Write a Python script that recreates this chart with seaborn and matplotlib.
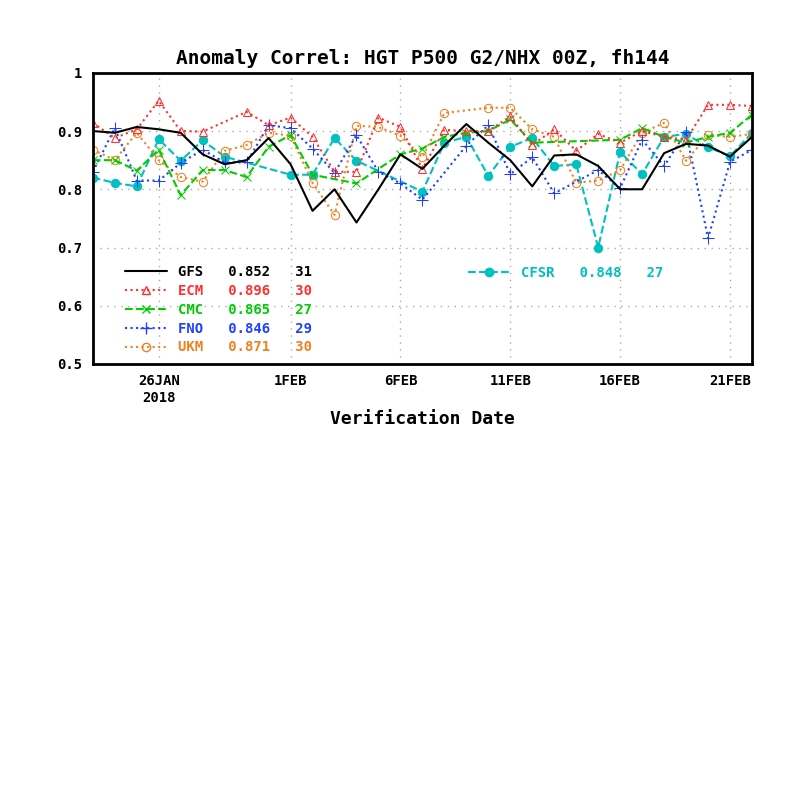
import numpy as np
import pandas as pd
import seaborn as sns
import matplotlib.pyplot as plt
from matplotlib.lines import Line2D

nan = np.nan
dates = pd.date_range('2018-01-23', '2018-02-22', freq='D')

gfs = [0.900, 0.897, 0.907, 0.903, 0.897, 0.860, 0.843, 0.850, 0.888, 0.843, 0.763,
       0.800, 0.743, 0.800, 0.860, 0.835, 0.875, 0.912, 0.880, 0.850, 0.805, 0.858,
       0.860, 0.840, 0.800, 0.800, 0.862, 0.878, 0.875, 0.856, 0.890]
ecm = [0.914, 0.888, 0.903, 0.952, 0.900, 0.899, nan, 0.933, 0.910, 0.923, 0.890,
       0.830, 0.830, 0.923, 0.907, 0.835, 0.902, 0.900, 0.900, 0.925, 0.876, 0.903,
       0.866, 0.895, 0.880, 0.900, 0.890, 0.885, 0.945, 0.945, 0.943]
cmc = [0.850, 0.850, 0.832, 0.868, 0.790, 0.833, 0.833, 0.821, 0.873, 0.893, 0.825,
       nan, 0.810, nan, 0.860, 0.870, 0.890, 0.897, 0.900, 0.920, 0.880, nan,
       nan, nan, 0.885, 0.905, 0.890, 0.880, 0.890, 0.897, 0.928]
fno = [0.830, 0.905, 0.815, 0.815, 0.845, 0.868, 0.846, 0.846, 0.910, 0.905, 0.870,
       0.828, 0.893, 0.830, 0.810, 0.782, nan, 0.875, 0.910, 0.826, 0.855, 0.793,
       nan, 0.833, 0.802, 0.885, 0.840, 0.898, 0.716, 0.847, 0.868]
ukm = [0.868, 0.850, 0.897, 0.850, 0.821, 0.813, 0.866, 0.876, 0.897, 0.892, 0.811,
       0.756, 0.909, 0.907, 0.892, 0.855, 0.931, nan, 0.940, 0.940, 0.903, 0.890,
       0.811, 0.815, 0.833, 0.897, 0.914, 0.849, 0.893, 0.890, 0.895]
cfsr = [0.820, 0.811, 0.805, 0.886, 0.849, 0.884, 0.856, nan, nan, 0.825, 0.825,
        0.888, 0.849, nan, nan, 0.796, 0.880, 0.890, 0.823, 0.873, 0.888, 0.840,
        0.843, 0.700, 0.864, 0.826, 0.890, 0.895, 0.872, 0.857, 0.897]

df = pd.DataFrame({'date': dates, 'GFS': gfs, 'ECM': ecm, 'CMC': cmc,
                   'FNO': fno, 'UKM': ukm, 'CFSR': cfsr})

sns.set_style('white')
plt.rcParams['font.family'] = ['DejaVu Sans Mono', 'DejaVu Sans']
plt.rcParams['font.weight'] = 'bold'
plt.rcParams['text.color'] = 'black'
plt.rcParams['axes.labelcolor'] = 'black'
plt.rcParams['xtick.color'] = 'black'
plt.rcParams['ytick.color'] = 'black'

fig = plt.figure(figsize=(8, 8), dpi=100)
ax = fig.add_axes([0.116, 0.545, 0.824, 0.364])

styles = {
    'GFS': dict(color='black', linestyle='-', marker=None),
    'ECM': dict(color='#ff3030', linestyle=':', marker='^', mfc='none', mec='#ff3030'),
    'CMC': dict(color='#00cc00', linestyle='--', marker='x', mec='#00cc00'),
    'FNO': dict(color='#2040ff', linestyle=':', marker='+', mec='#2040ff', ms=8),
    'UKM': dict(color='#f08020', linestyle=':', marker='o', mfc='none', mec='#f08020'),
    'CFSR': dict(color='#00c0c0', linestyle='--', marker='o', mec='#00c0c0'),
}
for name in ['CFSR', 'UKM', 'FNO', 'CMC', 'ECM', 'GFS']:
    st = dict(styles[name])
    sns.lineplot(data=df, x='date', y=name, ax=ax, lw=1.5, ms=st.pop('ms', 6), **st)

ax.set_xlim(dates[0], dates[-1])
ax.set_ylim(0.5, 1.0)
ax.set_yticks([0.5, 0.6, 0.7, 0.8, 0.9, 1.0])
ax.set_yticklabels(['0.5', '0.6', '0.7', '0.8', '0.9', '1'])
ticks = pd.to_datetime(['2018-01-26', '2018-02-01', '2018-02-06', '2018-02-11',
                        '2018-02-16', '2018-02-21'])
ax.set_xticks(ticks)
ax.set_xticklabels(['26JAN\n2018', '1FEB', '6FEB', '11FEB', '16FEB', '21FEB'])
ax.tick_params(labelsize=10, length=4, direction='out')
ax.grid(True, color='#aaaaaa', linestyle=(0, (1, 4)), lw=1)
for s in ax.spines.values():
    s.set_linewidth(2)
    s.set_color('black')
ax.set_xlabel('Verification Date', fontsize=13, fontweight='bold')
ax.set_ylabel('')
ax.set_title('Anomaly Correl: HGT P500 G2/NHX 00Z, fh144', fontsize=14, fontweight='bold')

labels = {'GFS': 'GFS   0.852   31', 'ECM': 'ECM   0.896   30', 'CMC': 'CMC   0.865   27',
          'FNO': 'FNO   0.846   29', 'UKM': 'UKM   0.871   30', 'CFSR': 'CFSR   0.848   27'}

def handle(name):
    st = dict(styles[name])
    return Line2D([], [], lw=1.5, ms=st.pop('ms', 6), **st)

left = ['GFS', 'ECM', 'CMC', 'FNO', 'UKM']
leg1 = ax.legend([handle(n) for n in left], [labels[n] for n in left],
                 loc='lower left', bbox_to_anchor=(0.03, -0.01), frameon=False,
                 handlelength=3, labelspacing=0.35, fontsize=10)
for t, n in zip(leg1.get_texts(), left):
    t.set_color(styles[n]['color'])
ax.add_artist(leg1)
leg2 = ax.legend([handle('CFSR')], [labels['CFSR']], loc='upper left',
                 bbox_to_anchor=(0.55, 0.38), frameon=False, handlelength=3, fontsize=10)
leg2.get_texts()[0].set_color(styles['CFSR']['color'])

fig.savefig('out.png', dpi=100)
